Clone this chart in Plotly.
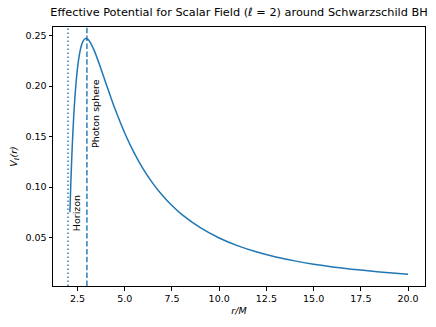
import plotly.graph_objects as go

# radius r/M and effective potential values
r_vals = [2.1, 2.15, 2.2, 2.25, 2.3, 2.35, 2.4, 2.5, 2.6, 2.7, 2.8, 2.9, 3.0, 3.1, 3.2,
          3.4, 3.6, 3.8, 4.0, 4.25, 4.5, 5.0, 5.5, 6.0, 6.5, 7.0, 7.5, 8.0, 9.0, 10.0,
          11.0, 12.0, 13.0, 14.0, 15.0, 16.0, 17.0, 18.0, 19.0, 20.0]
v_vals = [0.0751, 0.1046, 0.1298, 0.1512, 0.1694, 0.1848, 0.1977, 0.2176, 0.2311, 0.2397,
          0.2447, 0.2469, 0.2469, 0.2454, 0.2426, 0.2347, 0.2248, 0.2141, 0.2031, 0.1897,
          0.1768, 0.1536, 0.1339, 0.1173, 0.1034, 0.0916, 0.0817, 0.0732, 0.0598, 0.0496,
          0.0418, 0.0357, 0.0308, 0.0269, 0.0236, 0.0209, 0.0187, 0.0168, 0.0151, 0.0137]

r_horizon = 2.0
r_photon = 3.0

BLUE = '#1f77b4'
FONT = 'DejaVu Sans'

fig = go.Figure()
fig.add_trace(go.Scatter(x=r_vals, y=v_vals, mode='lines',
                         line=dict(color=BLUE, width=1.5, shape='spline', smoothing=0.6),
                         showlegend=False))

# matplotlib-like ':' and '--' patterns
fig.add_vline(x=r_horizon, line=dict(color=BLUE, width=1.4, dash='1.5px,2.5px'))
fig.add_vline(x=r_photon, line=dict(color=BLUE, width=1.4, dash='5.5px,2.4px'))

fig.add_annotation(x=2.17, y=0.056, text='Horizon', textangle=-90, showarrow=False,
                   xanchor='left', yanchor='bottom', xshift=-2, yshift=-2,
                   font=dict(size=9.5, color='black'))
fig.add_annotation(x=3.23, y=0.139, text='Photon sphere', textangle=-90, showarrow=False,
                   xanchor='left', yanchor='bottom', xshift=-4, yshift=-2,
                   font=dict(size=9.5, color='black'))

axis_common = dict(showline=True, linecolor='black', linewidth=1, mirror=True,
                   ticks='outside', ticklen=3.5, tickcolor='black', showgrid=False,
                   zeroline=False, automargin=False, tickfont=dict(size=9.5, color='black'))

fig.update_layout(
    width=436, height=327,
    margin=dict(l=53, r=11, t=27, b=41),
    paper_bgcolor='white', plot_bgcolor='white',
    font=dict(family=FONT, color='black'),
    title=dict(text='Effective Potential for Scalar Field (<i>ℓ</i> = 2) around Schwarzschild BH',
               x=0.5, xref='paper', xanchor='center', y=0.963, yanchor='middle',
               font=dict(size=11.3, color='black'), automargin=False),
    xaxis=dict(range=[1.205, 20.895], tickvals=[2.5, 5, 7.5, 10, 12.5, 15, 17.5, 20],
               ticktext=['2.5', '5.0', '7.5', '10.0', '12.5', '15.0', '17.5', '20.0'],
               title=dict(text='<i>r/M</i>', font=dict(size=9.5), standoff=4),
               **axis_common),
    yaxis=dict(range=[0.002, 0.2586], tickvals=[0.05, 0.10, 0.15, 0.20, 0.25],
               ticktext=['0.05', '0.10', '0.15', '0.20', '0.25'],
               title=dict(text='<i>V<sub>ℓ</sub>(r)</i>', font=dict(size=9.5), standoff=6),
               **axis_common),
)

# drop the default page margin so the figure sits at the window corner
fig.write_html('out.html', config={'displayModeBar': False},
               post_script="document.body.style.margin='0';")
